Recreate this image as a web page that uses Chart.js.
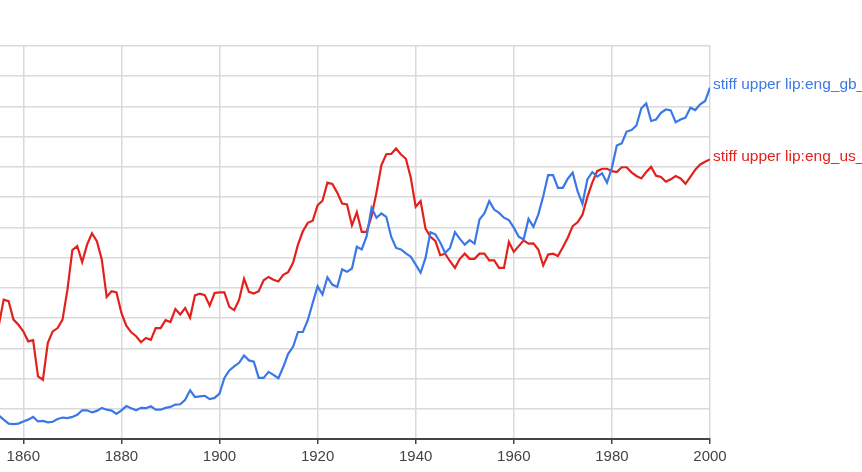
<!DOCTYPE html>
<html><head><meta charset="utf-8">
<script src="https://cdn.jsdelivr.net/npm/chart.js@4"></script>
<style>html,body{margin:0;padding:0;background:#fff;overflow:hidden}#wrap{width:862px;height:472px;position:relative}</style>
</head><body><div id="wrap"><canvas id="c" width="862" height="472"></canvas></div>
<script>
const years = [
1855,1856,1857,1858,1859,1860,1861,1862,1863,1864,
1865,1866,1867,1868,1869,1870,1871,1872,1873,1874,
1875,1876,1877,1878,1879,1880,1881,1882,1883,1884,
1885,1886,1887,1888,1889,1890,1891,1892,1893,1894,
1895,1896,1897,1898,1899,1900,1901,1902,1903,1904,
1905,1906,1907,1908,1909,1910,1911,1912,1913,1914,
1915,1916,1917,1918,1919,1920,1921,1922,1923,1924,
1925,1926,1927,1928,1929,1930,1931,1932,1933,1934,
1935,1936,1937,1938,1939,1940,1941,1942,1943,1944,
1945,1946,1947,1948,1949,1950,1951,1952,1953,1954,
1955,1956,1957,1958,1959,1960,1961,1962,1963,1964,
1965,1966,1967,1968,1969,1970,1971,1972,1973,1974,
1975,1976,1977,1978,1979,1980,1981,1982,1983,1984,
1985,1986,1987,1988,1989,1990,1991,1992,1993,1994,
1995,1996,1997,1998,1999,2000];

const gbValues = [
0.78,0.64,0.51,0.49,0.51,0.58,0.64,0.73,0.58,0.60,
0.55,0.57,0.66,0.71,0.69,0.73,0.80,0.95,0.95,0.88,
0.93,1.03,0.97,0.94,0.83,0.95,1.09,1.02,0.95,1.03,
1.02,1.08,0.97,0.97,1.03,1.06,1.14,1.15,1.30,1.61,
1.39,1.41,1.43,1.32,1.36,1.50,2.02,2.27,2.40,2.52,
2.76,2.60,2.56,2.02,2.02,2.22,2.12,2.01,2.38,2.82,
3.05,3.54,3.54,3.93,4.50,5.05,4.78,5.35,5.11,5.03,
5.61,5.53,5.64,6.36,6.27,6.71,7.65,7.32,7.46,7.35,
6.69,6.32,6.27,6.14,6.03,5.77,5.50,5.99,6.84,6.77,
6.50,6.16,6.32,6.84,6.62,6.43,6.58,6.46,7.26,7.46,
7.87,7.59,7.48,7.32,7.24,6.99,6.69,6.60,7.28,7.02,
7.43,8.03,8.73,8.73,8.31,8.31,8.61,8.81,8.20,7.78,
8.59,8.83,8.68,8.79,8.48,8.97,9.71,9.78,10.17,10.22,
10.37,10.94,11.10,10.52,10.57,10.79,10.90,10.87,10.48,10.57,
10.63,10.96,10.88,11.07,11.18,11.62];

const usValues = [
3.75,4.61,4.56,3.95,3.78,3.56,3.23,3.27,2.07,1.96,
3.18,3.56,3.67,3.95,4.94,6.25,6.38,5.85,6.43,6.80,
6.54,5.94,4.70,4.89,4.85,4.17,3.75,3.53,3.40,3.20,
3.34,3.28,3.67,3.67,3.93,3.87,4.30,4.12,4.33,4.01,
4.75,4.81,4.76,4.41,4.83,4.85,4.85,4.37,4.26,4.61,
5.30,4.87,4.81,4.89,5.25,5.36,5.27,5.21,5.43,5.52,
5.83,6.43,6.87,7.15,7.22,7.73,7.88,8.48,8.44,8.15,
7.79,7.76,7.07,7.50,6.85,6.85,7.37,8.15,9.05,9.42,
9.43,9.61,9.41,9.27,8.64,7.68,7.87,6.96,6.69,6.55,
6.08,6.13,5.88,5.66,5.96,6.13,5.96,5.96,6.13,6.13,
5.91,5.91,5.66,5.66,6.52,6.19,6.38,6.57,6.46,6.47,
6.27,5.74,6.10,6.13,6.05,6.34,6.66,7.04,7.17,7.42,
8.01,8.48,8.86,8.94,8.94,8.86,8.83,8.99,8.99,8.82,
8.70,8.62,8.83,9.00,8.71,8.67,8.51,8.59,8.70,8.62,
8.44,8.67,8.91,9.08,9.17,9.25];

const seriesNames = ['stiff upper lip:eng_gb_2019', 'stiff upper lip:eng_us_2019'];
const xTickYears = [1860, 1880, 1900, 1920, 1940, 1960, 1980, 2000];

const FONT = '"Liberation Sans", Arial, sans-serif';

const endLabels = {
  id: 'endLabels',
  afterDatasetsDraw(chart) {
    const ctx = chart.ctx;
    chart.data.datasets.forEach((ds, i) => {
      const meta = chart.getDatasetMeta(i);
      const pt = meta.data[meta.data.length - 1];
      if (!pt) return;
      ctx.save();
      ctx.font = '15.5px ' + FONT;
      ctx.fillStyle = ds.borderColor;
      ctx.textBaseline = 'middle';
      ctx.textAlign = 'left';
      ctx.fillText(ds.label, pt.x + 3, pt.y - 3);
      ctx.restore();
    });
  }
};

const toPoints = vals => years.map((y, i) => ({x: y, y: vals[i]}));

new Chart(document.getElementById('c'), {
  type: 'line',
  data: {
    datasets: [
      {label: seriesNames[0], data: toPoints(gbValues), borderColor: '#3b78e7', borderWidth: 2.2, pointRadius: 0, tension: 0, fill: false},
      {label: seriesNames[1], data: toPoints(usValues), borderColor: '#e3211c', borderWidth: 2.2, pointRadius: 0, tension: 0, fill: false}
    ]
  },
  options: {
    responsive: false,
    animation: false,
    devicePixelRatio: 1,
    layout: {padding: {top: 46, right: 152, left: 0, bottom: 0}},
    plugins: {legend: {display: false}, tooltip: {enabled: false}},
    scales: {
      x: {
        type: 'linear',
        min: 1855.25,
        max: 2000,
        afterBuildTicks: s => { s.ticks = xTickYears.map(v => ({value: v})); },
        afterFit: s => { s.height = 33; },
        grid: {color: '#dadada', lineWidth: 1.5, drawTicks: true, tickLength: 5, tickColor: '#444', tickWidth: 1.5},
        border: {display: true, color: '#444', width: 2},
        ticks: {color: '#444', padding: 4, maxRotation: 0, autoSkip: false, font: {size: 15, family: FONT}, callback: v => String(v)}
      },
      y: {
        min: 0,
        max: 13,
        afterFit: s => { s.width = 0; },
        grid: {color: '#dadada', lineWidth: 1.5, drawTicks: false},
        border: {display: false},
        ticks: {display: false, stepSize: 1}
      }
    }
  },
  plugins: [endLabels]
});
</script>
</body></html>
